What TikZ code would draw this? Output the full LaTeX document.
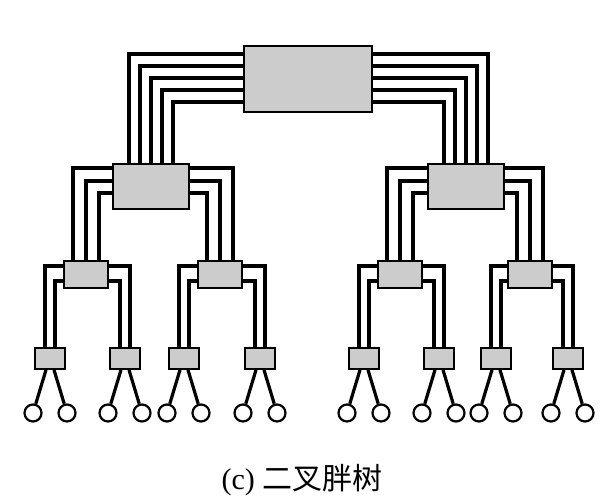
\documentclass[tikz,border=0pt]{standalone}
\usepackage{fontspec}
\setmainfont{Liberation Serif}
\newfontfamily\cjk{Noto Sans CJK SC}
\usetikzlibrary{positioning}
\tikzset{
  switchbox/.style={draw, fill=gray!40, line width=1.8pt, inner sep=0pt},
  wire/.style={line width=3.8pt},
  leafnode/.style={draw, circle, fill=white, line width=2.2pt, minimum size=17pt, inner sep=0pt}
}
\begin{document}
\begin{tikzpicture}[x=1pt,y=-1pt]
\useasboundingbox (0,0) rectangle (616,498);
\node(T)[switchbox, minimum width=128pt, minimum height=66pt] at (308,79) {};
\node(L)[switchbox, minimum width=76pt, minimum height=45pt] at (151,186.5) {};
\node(R)[switchbox, minimum width=76pt, minimum height=45pt] at (466,186.5) {};
\node(A)[switchbox, minimum width=44pt, minimum height=27pt] at (86,274.5) {};
\node(B)[switchbox, minimum width=44pt, minimum height=27pt] at (220,274.5) {};
\node(C)[switchbox, minimum width=44pt, minimum height=27pt] at (400,274.5) {};
\node(D)[switchbox, minimum width=44pt, minimum height=27pt] at (530,274.5) {};
\foreach \k/\x in {1/50,2/125,3/184,4/260,5/364,6/439,7/496,8/568} {
  \node(l\k)[switchbox, minimum width=30pt, minimum height=21pt] at (\x,358.5) {};
  \node(a\k)[leafnode] at (\x-17,413) {};
  \node(b\k)[leafnode] at (\x+17,413) {};
  \draw[wire, line width=3.2pt] ([xshift=-4pt]l\k.south) -- (a\k);
  \draw[wire, line width=3.2pt] ([xshift=4pt]l\k.south) -- (b\k);
}

\foreach \i [evaluate=\i as \dy using -9-12*\i, evaluate=\i as \dx using 22-11*\i] in {0,...,4} {
  \draw[wire] ([yshift=\dy pt]T.north west) -| ([xshift=-\dx pt]L.north);
  \draw[wire] ([yshift=\dy pt]T.north east) -| ([xshift=\dx pt]R.north);
}
\foreach \p/\m/\n in {L/A/B, R/C/D} {
  \foreach \i [evaluate=\i as \dy using -5-12.5*\i, evaluate=\i as \dx using 13-13*\i] in {0,1,2} {
    \draw[wire] ([yshift=\dy pt]\p.north west) -| ([xshift=-\dx pt]\m.north);
    \draw[wire] ([yshift=\dy pt]\p.north east) -| ([xshift=\dx pt]\n.north);
  }
}
\foreach \p/\m/\n in {A/l1/l2, B/l3/l4, C/l5/l6, D/l7/l8} {
  \foreach \i [evaluate=\i as \dy using -6-15*\i, evaluate=\i as \dx using 5-10*\i] in {0,1} {
    \draw[wire] ([yshift=\dy pt]\p.north west) -| ([xshift=-\dx pt]\m.north);
    \draw[wire] ([yshift=\dy pt]\p.north east) -| ([xshift=\dx pt]\n.north);
  }
}

\node(cap) at (302,480) {\fontsize{30}{32}\selectfont (c) {\cjk 二叉胖树}};
\end{tikzpicture}
\end{document}
